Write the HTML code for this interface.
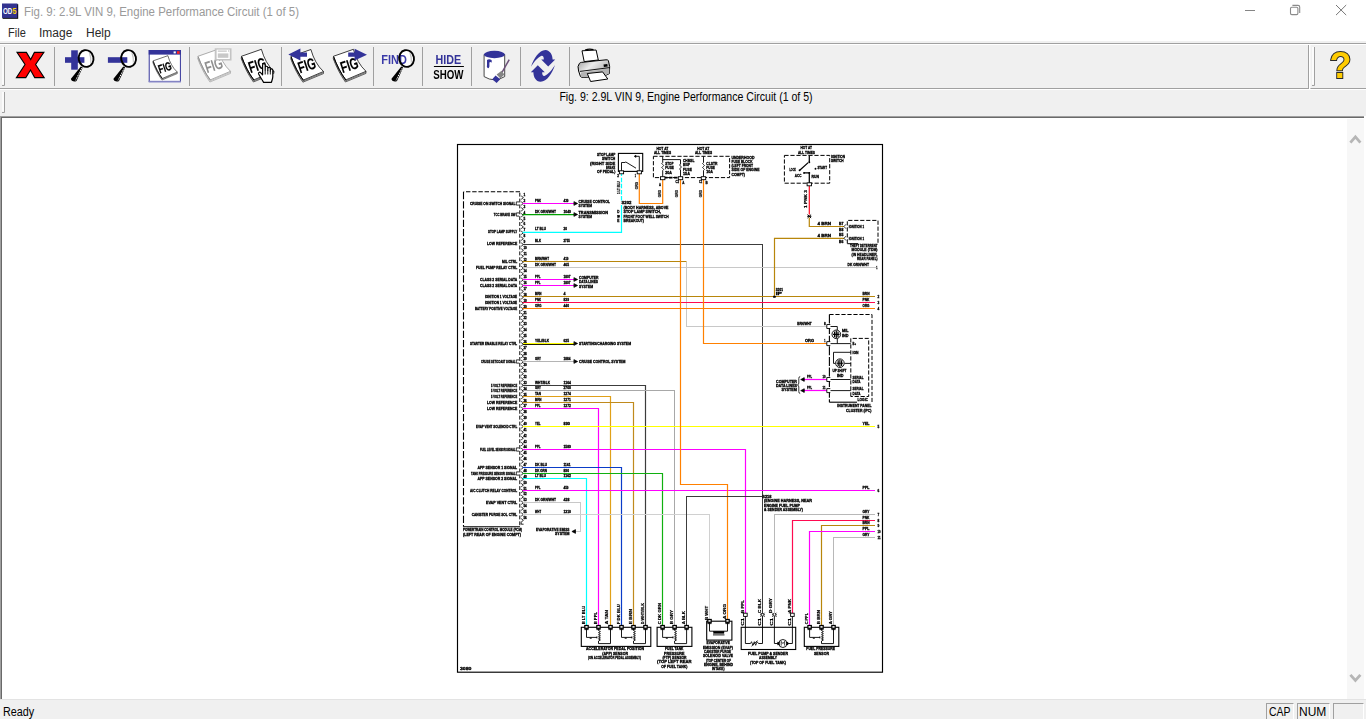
<!DOCTYPE html>
<html><head><meta charset="utf-8"><title>Fig. 9: 2.9L VIN 9, Engine Performance Circuit (1 of 5)</title>
<style>
html,body{margin:0;padding:0;}
body{width:1366px;height:719px;overflow:hidden;background:#fff;font-family:"Liberation Sans",sans-serif;position:relative;}
.abs{position:absolute;}
#title{left:23.5px;top:4.7px;font-size:12px;line-height:15px;color:#9a9a9a;white-space:nowrap;transform:scaleX(0.956);transform-origin:0 0;}
.menu{top:26px;font-size:12px;line-height:15px;color:#2a2a2a;white-space:nowrap;transform-origin:0 0;}
#tb{left:0;top:41px;width:1366px;height:48px;background:#f0f0f0;box-sizing:border-box;}
#tbt{left:0;top:43px;width:1366px;height:2px;background:linear-gradient(#a0a0a0 50%,#fff 50%);}
#tbline{left:0;top:88px;width:1366px;height:1px;background:#a0a0a0;}
#cap{left:0;top:89px;width:1366px;height:27px;background:#f0f0f0;border-top:1px solid #fff;box-sizing:border-box;}
#captxt{left:0;top:90px;width:1372px;text-align:center;font-size:12.5px;line-height:14px;color:#000;white-space:nowrap;transform:scaleX(0.845);transform-origin:686px 0;}
#dark{left:0;top:116px;width:1364px;height:2px;background:linear-gradient(#a0a0a0 50%,#696969 50%);}
#darkl{left:0;top:117px;width:2px;height:582px;background:linear-gradient(90deg,#a0a0a0 50%,#696969 50%);}
#sb{left:1347px;top:119px;width:17px;height:580px;background:#f7f7f7;}
#status{left:0;top:699px;width:1366px;height:20px;background:#f0f0f0;border-top:1px solid #e3e3e3;box-sizing:border-box;}
.st{font-size:12px;line-height:15px;color:#000;top:704.6px;white-space:nowrap;transform-origin:0 0;}
.pane{top:703px;height:16px;border-top:1px solid #a0a0a0;border-left:1px solid #a0a0a0;border-right:1px solid #fff;box-sizing:border-box;}
.vsep{top:47px;width:1px;height:39px;background:#a0a0a0;}
svg text{font-family:"Liberation Sans",sans-serif;font-weight:bold;fill:#000;stroke:#000;stroke-width:0.32px;}
</style></head><body>
<!-- title bar -->
<div class="abs" id="title">Fig. 9: 2.9L VIN 9, Engine Performance Circuit (1 of 5)</div>
<div class="abs menu" style="left:7.5px;transform:scaleX(0.92)">File</div>
<div class="abs menu" style="left:39px">Image</div>
<div class="abs menu" style="left:86px">Help</div>
<div class="abs" id="tb"></div><div class="abs" id="tbt"></div>
<div class="abs" id="tbline"></div>
<div class="abs" id="cap"></div>
<div class="abs" id="captxt">Fig. 9: 2.9L VIN 9, Engine Performance Circuit (1 of 5)</div>
<div class="abs" id="dark"></div><div class="abs" id="darkl"></div>
<div class="abs" id="sb"></div>
<div class="abs" id="status"></div>
<div class="abs st" style="left:3px;transform:scaleX(0.9)">Ready</div>
<div class="abs pane" style="left:1266px;width:28px"></div>
<div class="abs pane" style="left:1297px;width:33px"></div>
<div class="abs pane" style="left:1333px;width:31px"></div>
<div class="abs st" style="left:1268.5px;transform:scaleX(0.87)">CAP</div>
<div class="abs st" style="left:1299px">NUM</div>
<!-- chrome svg (icons) -->
<svg class="abs" style="left:0;top:0;opacity:0.999" width="1366" height="719" viewBox="0 0 1366 719">
<rect x="2.6" y="4.2" width="15.6" height="14.6" fill="#000"/>
<rect x="2" y="3.5" width="15.4" height="14.4" fill="#33338f"/>
<text x="3" y="14.2" font-size="9.4" font-weight="bold" style="fill:#fff;stroke:none;font-family:'Liberation Sans',sans-serif" textLength="9.4" lengthAdjust="spacingAndGlyphs">OD</text>
<text x="12.6" y="14.2" font-size="9.4" font-weight="bold" style="fill:#ffd800;stroke:none;font-family:'Liberation Sans',sans-serif" textLength="4" lengthAdjust="spacingAndGlyphs">5</text>
<path d="M1245,10.5 H1255" stroke="#858585" stroke-width="1"/>
<path d="M1292.4,5.4 H1298 Q1299.7,5.4 1299.7,7.1 V12.9" fill="none" stroke="#8a8a8a" stroke-width="1.1"/>
<rect x="1290.5" y="7.3" width="7.4" height="7.3" rx="1.3" fill="#fff" stroke="#8a8a8a" stroke-width="1.1"/>
<path d="M1336,5 L1346.2,15.1 M1346.2,5 L1336,15.1" stroke="#777" stroke-width="1"/>
<path d="M4.5,47 V85.5 H2.0" fill="none" stroke="#a0a0a0" stroke-width="1"/>
<path d="M3.0,47 V84.5" fill="none" stroke="#fff" stroke-width="1.5"/>
<path d="M4.5,92 V112.5 H2.0" fill="none" stroke="#a0a0a0" stroke-width="1"/>
<path d="M3.0,92 V111.5" fill="none" stroke="#fff" stroke-width="1.5"/>
<path d="M1314.5,47 V85.5 H1312.0" fill="none" stroke="#a0a0a0" stroke-width="1"/>
<path d="M1313.0,47 V84.5" fill="none" stroke="#fff" stroke-width="1.5"/>
<rect x="1308" y="45" width="1" height="44" fill="#a0a0a0"/><rect x="1309" y="44" width="1.4" height="45" fill="#fff"/>
<rect x="54.0" y="47" width="1" height="39" fill="#a0a0a0"/>
<rect x="189.0" y="47" width="1" height="39" fill="#a0a0a0"/>
<rect x="281.0" y="47" width="1" height="39" fill="#a0a0a0"/>
<rect x="373.0" y="47" width="1" height="39" fill="#a0a0a0"/>
<rect x="422.0" y="47" width="1" height="39" fill="#a0a0a0"/>
<rect x="471.0" y="47" width="1" height="39" fill="#a0a0a0"/>
<rect x="520.0" y="47" width="1" height="39" fill="#a0a0a0"/>
<rect x="569.0" y="47" width="1" height="39" fill="#a0a0a0"/>
<path d="M1350.4,142.6 L1355.4,136.9 L1360.4,142.6" fill="none" stroke="#b6b6b6" stroke-width="2.8"/>
<path d="M1350.4,674.8 L1355.4,680.5 L1360.4,674.8" fill="none" stroke="#b6b6b6" stroke-width="2.8"/>
<path d="M17,52.4 L26.4,52.4 L30.7,59.6 L34.4,52.4 L43.9,52.4 L35.6,64.5 L44.2,77.6 L34.7,77.6 L30.5,70 L25.8,77.6 L16.4,77.6 L25,64.5 Z" fill="#ff0000" stroke="#000" stroke-width="1.1" stroke-linejoin="miter"/>
<ellipse cx="86.1" cy="58.5" rx="7.4" ry="8.4" transform="rotate(-12 86.1 58.5)" fill="#fff" stroke="none"/>
<rect x="71.2" y="50.3" width="6.6" height="19.4" fill="#333399"/><rect x="65" y="57.2" width="19.4" height="5.6" fill="#333399"/>
<path d="M89.5,51.7 Q93.5,57.5 89.5,65.7 Q90.69999999999999,58.5 89.5,51.7 Z" fill="#c4c4c4" transform="rotate(-8 86.1 58.5)"/>
<ellipse cx="86.1" cy="58.5" rx="7.4" ry="8.4" transform="rotate(-12 86.1 58.5)" fill="none" stroke="#000" stroke-width="1.9"/>
<path d="M80.8,66.5 L82.69999999999999,67.39999999999999 L76.5,81.0 Q74.1,82.2 71.89999999999999,80.7 Q70.5,79.39999999999999 71.19999999999999,78.39999999999999 Z" fill="#000"/>
<path d="M81.69999999999999,68.2 L75.5,80.39999999999999" stroke="#fff" stroke-width="1" stroke-dasharray="1.2 0.7"/>
<ellipse cx="128.6" cy="58.5" rx="7.4" ry="8.4" transform="rotate(-12 128.6 58.5)" fill="#fff" stroke="none"/>
<rect x="107.9" y="57.2" width="19.4" height="5.6" fill="#333399"/>
<path d="M132.0,51.7 Q136.0,57.5 132.0,65.7 Q133.2,58.5 132.0,51.7 Z" fill="#c4c4c4" transform="rotate(-8 128.6 58.5)"/>
<ellipse cx="128.6" cy="58.5" rx="7.4" ry="8.4" transform="rotate(-12 128.6 58.5)" fill="none" stroke="#000" stroke-width="1.9"/>
<path d="M123.3,66.5 L125.19999999999999,67.39999999999999 L119.0,81.0 Q116.6,82.2 114.39999999999999,80.7 Q113.0,79.39999999999999 113.69999999999999,78.39999999999999 Z" fill="#000"/>
<path d="M124.19999999999999,68.2 L118.0,80.39999999999999" stroke="#fff" stroke-width="1" stroke-dasharray="1.2 0.7"/>
<rect x="148.7" y="50" width="32.2" height="32.4" fill="#fff"/>
<rect x="148.7" y="50" width="32.2" height="4.6" fill="#333399"/>
<rect x="149.2" y="50.5" width="31.2" height="31" fill="none" stroke="#333399" stroke-width="1"/>
<rect x="148.7" y="80.8" width="32.2" height="1.7" fill="#8484c4"/>
<rect x="173.6" y="51.4" width="2.2" height="2" fill="#fff"/><rect x="177" y="51.2" width="2.6" height="2.6" fill="#ff2020"/>
<g style="filter:grayscale(1)" transform="translate(153,60.9) scale(0.745)"><path d="M-0.3,2.0 C2.9,10.6 7.1,19 12.0,25.7 L32.6,17.1 L32.6,15" fill="#fff" fill-opacity="0.985" stroke="#000" stroke-width="0.6"/><path d="M-0.2,1.0 C3,9.6 7.2,18 12.2,24.65 L32.6,16.05" fill="#fff" fill-opacity="0.985" stroke="#000" stroke-width="0.55"/><path d="M0,0 L20,-7 C22.5,2 26.5,9.5 32.6,15 L12.4,23.6 C7.4,17 3.2,8.6 0,0 Z" fill="#fff" fill-opacity="0.985" stroke="#000" stroke-width="0.75"/><path d="M0.25,0.4 C3.45,9 7.6,17.4 12.5,23.8" fill="none" stroke="#000" stroke-width="1.0"/><text transform="translate(9,16.9) rotate(-18)" font-size="16" font-weight="normal" textLength="18" lengthAdjust="spacingAndGlyphs" style="fill:#000;stroke:#000;stroke-width:0.3px;font-family:'Liberation Sans',sans-serif">FIG</text></g>
<g style="filter:grayscale(1)" transform="translate(197.9,56.3) scale(1.0)"><path d="M-0.3,2.0 C2.9,10.6 7.1,19 12.0,25.7 L32.6,17.1 L32.6,15" fill="#fff" fill-opacity="0.985" stroke="#909090" stroke-width="0.6"/><path d="M-0.2,1.0 C3,9.6 7.2,18 12.2,24.65 L32.6,16.05" fill="#fff" fill-opacity="0.985" stroke="#909090" stroke-width="0.55"/><path d="M0,0 L20,-7 C22.5,2 26.5,9.5 32.6,15 L12.4,23.6 C7.4,17 3.2,8.6 0,0 Z" fill="#fff" fill-opacity="0.985" stroke="#909090" stroke-width="0.75"/><path d="M0.25,0.4 C3.45,9 7.6,17.4 12.5,23.8" fill="none" stroke="#909090" stroke-width="1.0"/><text transform="translate(9,16.9) rotate(-18)" font-size="16" font-weight="normal" textLength="18" lengthAdjust="spacingAndGlyphs" style="fill:#909090;stroke:#909090;stroke-width:0.01px;font-family:'Liberation Sans',sans-serif">FIG</text></g>
<rect x="214.7" y="48.3" width="16.8" height="12.2" fill="#c4c4c4"/><rect x="216.6" y="49.6" width="13.2" height="9.4" fill="#fff"/>
<rect x="217.8" y="50.6" width="9" height="1" fill="#b8b8b8"/><rect x="217.8" y="53.4" width="10.6" height="4.4" fill="#c8c8c8"/><rect x="228" y="50.4" width="1.2" height="1.2" fill="#c0c0c0"/>
<g style="filter:grayscale(1)" transform="translate(241.4,56.3) scale(1.0)"><path d="M-0.3,2.0 C2.9,10.6 7.1,19 12.0,25.7 L32.6,17.1 L32.6,15" fill="#fff" fill-opacity="0.985" stroke="#000" stroke-width="0.6"/><path d="M-0.2,1.0 C3,9.6 7.2,18 12.2,24.65 L32.6,16.05" fill="#fff" fill-opacity="0.985" stroke="#000" stroke-width="0.55"/><path d="M0,0 L20,-7 C22.5,2 26.5,9.5 32.6,15 L12.4,23.6 C7.4,17 3.2,8.6 0,0 Z" fill="#fff" fill-opacity="0.985" stroke="#000" stroke-width="0.75"/><path d="M0.25,0.4 C3.45,9 7.6,17.4 12.5,23.8" fill="none" stroke="#000" stroke-width="1.0"/><text transform="translate(9,16.9) rotate(-18)" font-size="16" font-weight="normal" textLength="18" lengthAdjust="spacingAndGlyphs" style="fill:#000;stroke:#000;stroke-width:0.12px;font-family:'Liberation Sans',sans-serif">FIG</text></g>
<path d="M262.2,80 C260.5,77.5 259.5,75.5 258.6,74 C258,72.6 259.6,71.6 260.8,72.8 L262.6,74.8 L262.6,65.2 C262.6,63.2 265.2,63.2 265.2,65.2 L265.2,70 L265.2,67.6 C265.2,65.8 267.8,65.8 267.8,67.6 L267.8,70.4 L267.8,68.6 C267.8,66.9 270.3,66.9 270.3,68.6 L270.3,71.2 L270.3,70 C270.3,68.4 272.8,68.4 272.8,70 L272.8,76.5 C272.8,78.5 272,80 271.4,82.4 L263.6,82.4 Z" fill="#fff" stroke="#000" stroke-width="1.2" stroke-linejoin="round"/>
<path d="M265.2,70 V74.5 M267.8,70.4 V74.5 M270.3,71.2 V74.5" stroke="#000" stroke-width="0.9"/>
<g style="filter:grayscale(1)" transform="translate(290.9,56.5) scale(1.0)"><path d="M-0.3,2.0 C2.9,10.6 7.1,19 12.0,25.7 L32.6,17.1 L32.6,15" fill="#fff" fill-opacity="0.985" stroke="#000" stroke-width="0.6"/><path d="M-0.2,1.0 C3,9.6 7.2,18 12.2,24.65 L32.6,16.05" fill="#fff" fill-opacity="0.985" stroke="#000" stroke-width="0.55"/><path d="M0,0 L20,-7 C22.5,2 26.5,9.5 32.6,15 L12.4,23.6 C7.4,17 3.2,8.6 0,0 Z" fill="#fff" fill-opacity="0.985" stroke="#000" stroke-width="0.75"/><path d="M0.25,0.4 C3.45,9 7.6,17.4 12.5,23.8" fill="none" stroke="#000" stroke-width="1.0"/><text transform="translate(9,16.9) rotate(-18)" font-size="16" font-weight="normal" textLength="18" lengthAdjust="spacingAndGlyphs" style="fill:#000;stroke:#000;stroke-width:0.12px;font-family:'Liberation Sans',sans-serif">FIG</text></g>
<path d="M288.3,54.6 L300.4,48.6 L300.4,52.6 L307,52.6 L307,56.8 L300.4,56.8 L300.4,60.5 Z" fill="#333399"/>
<g style="filter:grayscale(1)" transform="translate(333.4,56.3) scale(1.0)"><path d="M-0.3,2.0 C2.9,10.6 7.1,19 12.0,25.7 L32.6,17.1 L32.6,15" fill="#fff" fill-opacity="0.985" stroke="#000" stroke-width="0.6"/><path d="M-0.2,1.0 C3,9.6 7.2,18 12.2,24.65 L32.6,16.05" fill="#fff" fill-opacity="0.985" stroke="#000" stroke-width="0.55"/><path d="M0,0 L20,-7 C22.5,2 26.5,9.5 32.6,15 L12.4,23.6 C7.4,17 3.2,8.6 0,0 Z" fill="#fff" fill-opacity="0.985" stroke="#000" stroke-width="0.75"/><path d="M0.25,0.4 C3.45,9 7.6,17.4 12.5,23.8" fill="none" stroke="#000" stroke-width="1.0"/><text transform="translate(9,16.9) rotate(-18)" font-size="16" font-weight="normal" textLength="18" lengthAdjust="spacingAndGlyphs" style="fill:#000;stroke:#000;stroke-width:0.12px;font-family:'Liberation Sans',sans-serif">FIG</text></g>
<path d="M367,54.8 L354.6,48.8 L354.6,52.6 L348.2,52.6 L348.2,56.8 L354.6,56.8 L354.6,60.5 Z" fill="#333399"/>
<ellipse cx="406.6" cy="58.5" rx="7.4" ry="8.4" transform="rotate(-12 406.6 58.5)" fill="#fff" stroke="none"/>
<text x="381.3" y="63.9" font-size="13.4" font-weight="bold" textLength="25.5" lengthAdjust="spacingAndGlyphs" style="fill:#3a3aa8;stroke:none;font-family:'Liberation Sans',sans-serif">FIND</text>
<path d="M410.0,51.7 Q414.0,57.5 410.0,65.7 Q411.20000000000005,58.5 410.0,51.7 Z" fill="#c4c4c4" transform="rotate(-8 406.6 58.5)"/>
<ellipse cx="406.6" cy="58.5" rx="7.4" ry="8.4" transform="rotate(-12 406.6 58.5)" fill="none" stroke="#000" stroke-width="1.9"/>
<path d="M401.3,66.5 L403.20000000000005,67.39999999999999 L397.0,81.0 Q394.6,82.2 392.40000000000003,80.7 Q391.0,79.39999999999999 391.70000000000005,78.39999999999999 Z" fill="#000"/>
<path d="M402.20000000000005,68.2 L396.0,80.39999999999999" stroke="#fff" stroke-width="1" stroke-dasharray="1.2 0.7"/>
<text x="435.6" y="63.9" font-size="12.2" font-weight="bold" textLength="25.6" lengthAdjust="spacingAndGlyphs" style="fill:#333399;stroke:none;font-family:'Liberation Sans',sans-serif">HIDE</text>
<rect x="433.9" y="66" width="30" height="1" fill="#000"/>
<text x="433.2" y="78.9" font-size="12.8" font-weight="bold" textLength="30.3" lengthAdjust="spacingAndGlyphs" style="fill:#000;stroke:none;font-family:'Liberation Sans',sans-serif">SHOW</text>
<path d="M484.1,54.5 V76.6 Q494.4,83 504.7,76.6 V54.5 Z" fill="#fff" stroke="#333" stroke-width="0.9"/>
<ellipse cx="494.4" cy="54.5" rx="10.5" ry="3.7" fill="#333399"/>
<path d="M487,60 Q489,58.4 491.6,60 L491.8,62.6 Q490,61.4 489.4,62.6 L489.4,66.6 Q489,68.6 487.6,68 Q486.4,67 487,65 Z" fill="#333399"/>
<path d="M509.2,59.6 L502,72.4" stroke="#6c5078" stroke-width="1.5"/>
<path d="M501.6,70.8 L504.4,74.6 L500.4,78.6 L496.6,74.4 Z" fill="#858585"/>
<path d="M495.6,75.6 L500.2,79.2 L496.6,83 L492.2,79.2 Z" fill="#333399"/>
<path d="M531,66.8 C534,58 539,50.4 545.4,50 C550,50.4 552.6,54.6 552.6,59.6 L555.2,59.6 L548.2,66.6 L541.2,59.6 L543.8,59.6 C544,57.2 543,55.6 541.6,55.8 C537.6,57.4 534,62 531,66.8 Z" fill="#333399"/>
<path d="M555,65 C552,73.8 547,81.4 540.6,81.8 C536,81.4 533.4,77.2 533.4,72.2 L530.8,72.2 L537.8,65.2 L544.8,72.2 L542.2,72.2 C542,74.6 543,76.2 544.4,76 C548.4,74.4 552,69.8 555,65 Z" fill="#333399"/>
<path d="M582,50.8 L596.1,50 L598.3,60 L584.2,61.6 Z" fill="#fff" stroke="#000" stroke-width="1"/>
<path d="M585,50 Q589,48.6 593.5,49.6" fill="none" stroke="#000" stroke-width="1.2"/>
<defs><linearGradient id="pg" x1="0" y1="0" x2="1" y2="0.6"><stop offset="0" stop-color="#9a9a9a"/><stop offset="0.45" stop-color="#ececec"/><stop offset="1" stop-color="#a8a8a8"/></linearGradient></defs>
<path d="M579.4,63.4 Q577,66 578.6,71 L580.4,76.4 Q581,77.4 583,77.4 L588,77.2 L605.6,75.4 L609.4,73.6 Q610.4,66 608.4,60.6 Q607.6,59.6 606,59.8 L581.4,62.4 Q580,62.6 579.4,63.4 Z" fill="url(#pg)" stroke="#000" stroke-width="1"/>
<path d="M580,71.4 L609.6,67.6" fill="none" stroke="#000" stroke-width="0.9"/>
<path d="M581,72.4 L609.4,68.6 L609.2,73.4 L605.6,75.2 L583,77.2 L581,76.2 Z" fill="#b4b4b4"/>
<rect x="603.6" y="64.4" width="3.8" height="2.4" fill="#000" transform="rotate(-8 605 65)"/>
<path d="M587.3,73.5 L602.6,71.9 L607.8,79 L590.6,81.5 Z" fill="#fff" stroke="#000" stroke-width="1"/>
<text x="1329.4" y="78.4" font-size="37" font-weight="bold" textLength="22" lengthAdjust="spacingAndGlyphs" style="fill:#ffcc00;stroke:#2a2a2a;stroke-width:2px;paint-order:stroke fill;font-family:'Liberation Sans',sans-serif">?</text>
</svg>
<!-- diagram -->
<svg class="abs" style="left:0;top:0" width="1366" height="719" viewBox="0 0 1366 719">
<rect x="457.5" y="144.5" width="425" height="527.7" stroke="#000" stroke-width="1.15" fill="none"/>
<path d="M520,191.7 H463.5" stroke="#000" stroke-width="1.1" fill="none" stroke-dasharray="4.4 1.8"/>
<path d="M463.5,192 V526.8" stroke="#000" stroke-width="1.1" fill="none" stroke-dasharray="7.2 2.05"/>
<path d="M463.5,526.8 H520" stroke="#000" stroke-width="1.1" fill="none"/>
<line x1="519.8" y1="192.73" x2="519.8" y2="526" stroke="#000" stroke-width="1" stroke-dasharray="3.9 1.968"/>
<path d="M521.2,195.9 L523.4,197.6 L521.2,199.29999999999998 M521.2,201.77 L523.4,203.47 L521.2,205.17 M521.2,207.64000000000001 L523.4,209.34 L521.2,211.04 M521.2,213.5 L523.4,215.2 L521.2,216.89999999999998 M521.2,219.37 L523.4,221.07 L521.2,222.76999999999998 M521.2,225.24 L523.4,226.94 L521.2,228.64 M521.2,231.11 L523.4,232.81 L521.2,234.51 M521.2,236.98000000000002 L523.4,238.68 L521.2,240.38 M521.2,242.84 L523.4,244.54 L521.2,246.23999999999998 M521.2,248.71 L523.4,250.41 L521.2,252.10999999999999 M521.2,254.57999999999998 L523.4,256.28 L521.2,257.97999999999996 M521.2,260.45 L523.4,262.15 L521.2,263.84999999999997 M521.2,266.32 L523.4,268.02 L521.2,269.71999999999997 M521.2,272.18 L523.4,273.88 L521.2,275.58 M521.2,278.05 L523.4,279.75 L521.2,281.45 M521.2,283.92 L523.4,285.62 L521.2,287.32 M521.2,289.79 L523.4,291.49 L521.2,293.19 M521.2,295.66 L523.4,297.36 L521.2,299.06 M521.2,301.52000000000004 L523.4,303.22 L521.2,304.92 M521.2,307.39 L523.4,309.09 L521.2,310.78999999999996 M521.2,313.26 L523.4,314.96 L521.2,316.65999999999997 M521.2,319.13 L523.4,320.83 L521.2,322.53 M521.2,325.0 L523.4,326.7 L521.2,328.4 M521.2,330.86 L523.4,332.56 L521.2,334.26 M521.2,336.73 L523.4,338.43 L521.2,340.13 M521.2,342.6 L523.4,344.3 L521.2,346.0 M521.2,348.47 L523.4,350.17 L521.2,351.87 M521.2,354.34000000000003 L523.4,356.04 L521.2,357.74 M521.2,360.2 L523.4,361.9 L521.2,363.59999999999997 M521.2,366.07 L523.4,367.77 L521.2,369.46999999999997 M521.2,371.94 L523.4,373.64 L521.2,375.34 M521.2,377.81 L523.4,379.51 L521.2,381.21 M521.2,383.68 L523.4,385.38 L521.2,387.08 M521.2,389.54 L523.4,391.24 L521.2,392.94 M521.2,395.41 L523.4,397.11 L521.2,398.81 M521.2,401.28000000000003 L523.4,402.98 L521.2,404.68 M521.2,407.15000000000003 L523.4,408.85 L521.2,410.55 M521.2,413.02000000000004 L523.4,414.72 L521.2,416.42 M521.2,418.88 L523.4,420.58 L521.2,422.28 M521.2,424.75 L523.4,426.45 L521.2,428.15 M521.2,430.62 L523.4,432.32 L521.2,434.02 M521.2,436.49 L523.4,438.19 L521.2,439.89 M521.2,442.36 L523.4,444.06 L521.2,445.76 M521.2,448.22 L523.4,449.92 L521.2,451.62 M521.2,454.09000000000003 L523.4,455.79 L521.2,457.49 M521.2,459.96000000000004 L523.4,461.66 L521.2,463.36 M521.2,465.83 L523.4,467.53 L521.2,469.22999999999996 M521.2,471.7 L523.4,473.4 L521.2,475.09999999999997 M521.2,477.56 L523.4,479.26 L521.2,480.96 M521.2,483.43 L523.4,485.13 L521.2,486.83 M521.2,489.3 L523.4,491.0 L521.2,492.7 M521.2,495.17 L523.4,496.87 L521.2,498.57 M521.2,501.04 L523.4,502.74 L521.2,504.44 M521.2,506.90000000000003 L523.4,508.6 L521.2,510.3 M521.2,512.77 L523.4,514.47 L521.2,516.1700000000001 M521.2,518.64 L523.4,520.34 L521.2,522.0400000000001 " stroke="#000" stroke-width="0.85" fill="none"/>
<path d="M521.2,522.3 V524.2 H523.6" stroke="#000" stroke-width="0.85" fill="none"/>
<text x="470" y="204.95" font-size="4.0" textLength="45.5" lengthAdjust="spacingAndGlyphs">CRUISE ON SWITCH SIGNAL</text>
<path d="M519,201.9 L516.3,201.9 L516.3,205.1 L519,205.1" stroke="#000" stroke-width="0.8" fill="none"/>
<text x="493.7" y="215.95" font-size="4.0" textLength="21.8" lengthAdjust="spacingAndGlyphs">TCC BRAKE SW</text>
<path d="M519,212.9 L516.3,212.9 L516.3,216.1 L519,216.1" stroke="#000" stroke-width="0.8" fill="none"/>
<text x="488" y="233.45" font-size="4.0" textLength="29.2" lengthAdjust="spacingAndGlyphs">STOP LAMP SUPPLY</text>
<text x="487" y="245.45" font-size="4.0" textLength="30.2" lengthAdjust="spacingAndGlyphs">LOW REFERENCE</text>
<text x="502" y="262.95" font-size="4.0" textLength="15.2" lengthAdjust="spacingAndGlyphs">MIL CTRL</text>
<text x="476" y="268.95" font-size="4.0" textLength="41.2" lengthAdjust="spacingAndGlyphs">FUEL PUMP RELAY CTRL</text>
<text x="480" y="280.95" font-size="4.0" textLength="37.2" lengthAdjust="spacingAndGlyphs">CLASS 2 SERIAL DATA</text>
<text x="480" y="286.95" font-size="4.0" textLength="37.2" lengthAdjust="spacingAndGlyphs">CLASS 2 SERIAL DATA</text>
<text x="485" y="297.95" font-size="4.0" textLength="32.2" lengthAdjust="spacingAndGlyphs">IGNITION 1 VOLTAGE</text>
<text x="485" y="303.95" font-size="4.0" textLength="32.2" lengthAdjust="spacingAndGlyphs">IGNITION 1 VOLTAGE</text>
<text x="475" y="309.95" font-size="4.0" textLength="42.2" lengthAdjust="spacingAndGlyphs">BATTERY POSITIVE VOLTAGE</text>
<text x="470" y="344.95" font-size="4.0" textLength="47.2" lengthAdjust="spacingAndGlyphs">STARTER ENABLE RELAY CTRL</text>
<text x="481" y="362.95" font-size="4.0" textLength="34.5" lengthAdjust="spacingAndGlyphs">CRUISE SET/COAST SIGNAL</text>
<path d="M519,359.9 L516.3,359.9 L516.3,363.1 L519,363.1" stroke="#000" stroke-width="0.8" fill="none"/>
<text x="491" y="386.95" font-size="4.0" textLength="26.2" lengthAdjust="spacingAndGlyphs">5 VOLT REFERENCE</text>
<text x="491" y="391.95" font-size="4.0" textLength="26.2" lengthAdjust="spacingAndGlyphs">5 VOLT REFERENCE</text>
<text x="491" y="397.95" font-size="4.0" textLength="26.2" lengthAdjust="spacingAndGlyphs">5 VOLT REFERENCE</text>
<text x="487" y="403.95" font-size="4.0" textLength="30.2" lengthAdjust="spacingAndGlyphs">LOW REFERENCE</text>
<text x="487" y="409.95" font-size="4.0" textLength="30.2" lengthAdjust="spacingAndGlyphs">LOW REFERENCE</text>
<text x="476" y="427.95" font-size="4.0" textLength="41.2" lengthAdjust="spacingAndGlyphs">EVAP VENT SOLENOID CTRL</text>
<text x="480" y="450.95" font-size="4.0" textLength="35.5" lengthAdjust="spacingAndGlyphs">FUEL LEVEL SENSOR SIGNAL</text>
<path d="M519,447.9 L516.3,447.9 L516.3,451.1 L519,451.1" stroke="#000" stroke-width="0.8" fill="none"/>
<text x="477.5" y="468.95" font-size="4.0" textLength="39.7" lengthAdjust="spacingAndGlyphs">APP SENSOR 1 SIGNAL</text>
<text x="471" y="474.95" font-size="4.0" textLength="44.5" lengthAdjust="spacingAndGlyphs">TANK PRESSURE SENSOR SIGNAL</text>
<path d="M519,471.9 L516.3,471.9 L516.3,475.1 L519,475.1" stroke="#000" stroke-width="0.8" fill="none"/>
<text x="477.5" y="479.95" font-size="4.0" textLength="39.7" lengthAdjust="spacingAndGlyphs">APP SENSOR 2 SIGNAL</text>
<text x="470" y="491.95" font-size="4.0" textLength="47.2" lengthAdjust="spacingAndGlyphs">A/C CLUTCH RELAY CONTROL</text>
<text x="486" y="503.95" font-size="4.0" textLength="31.2" lengthAdjust="spacingAndGlyphs">EVAP VENT CTRL</text>
<text x="471.7" y="515.95" font-size="4.0" textLength="45.5" lengthAdjust="spacingAndGlyphs">CANISTER PURGE SOL CTRL</text>
<text x="463" y="530.75" font-size="4.0" textLength="59" lengthAdjust="spacingAndGlyphs">POWERTRAIN CONTROL MODULE (PCM)</text>
<text x="463" y="535.85" font-size="4.0" textLength="58" lengthAdjust="spacingAndGlyphs">(LEFT REAR OF ENGINE COMPT)</text>
<text x="535" y="201.75" font-size="4.0" textLength="6" lengthAdjust="spacingAndGlyphs">PNK</text>
<text x="563.5" y="201.75" font-size="4.0" textLength="5" lengthAdjust="spacingAndGlyphs">439</text>
<text x="535" y="212.75" font-size="4.0" textLength="21" lengthAdjust="spacingAndGlyphs">DK GRN/WHT</text>
<text x="563.5" y="212.75" font-size="4.0" textLength="7.5" lengthAdjust="spacingAndGlyphs">1049</text>
<text x="535" y="230.25" font-size="4.0" textLength="11" lengthAdjust="spacingAndGlyphs">LT BLU</text>
<text x="563.5" y="230.25" font-size="4.0" textLength="3.5" lengthAdjust="spacingAndGlyphs">20</text>
<text x="535" y="242.25" font-size="4.0" textLength="6" lengthAdjust="spacingAndGlyphs">BLK</text>
<text x="563.5" y="242.25" font-size="4.0" textLength="6.5" lengthAdjust="spacingAndGlyphs">2755</text>
<text x="535" y="259.75" font-size="4.0" textLength="14" lengthAdjust="spacingAndGlyphs">BRN/WHT</text>
<text x="563.5" y="259.75" font-size="4.0" textLength="5" lengthAdjust="spacingAndGlyphs">419</text>
<text x="535" y="265.75" font-size="4.0" textLength="21" lengthAdjust="spacingAndGlyphs">DK GRN/WHT</text>
<text x="563.5" y="265.75" font-size="4.0" textLength="5.5" lengthAdjust="spacingAndGlyphs">465</text>
<text x="535" y="277.75" font-size="4.0" textLength="5.5" lengthAdjust="spacingAndGlyphs">PPL</text>
<text x="563.5" y="277.75" font-size="4.0" textLength="7" lengthAdjust="spacingAndGlyphs">1807</text>
<text x="535" y="283.75" font-size="4.0" textLength="5.5" lengthAdjust="spacingAndGlyphs">PPL</text>
<text x="563.5" y="283.75" font-size="4.0" textLength="7" lengthAdjust="spacingAndGlyphs">1807</text>
<text x="535" y="294.75" font-size="4.0" textLength="6.5" lengthAdjust="spacingAndGlyphs">BRN</text>
<text x="563.5" y="294.75" font-size="4.0" textLength="2" lengthAdjust="spacingAndGlyphs">4</text>
<text x="535" y="300.75" font-size="4.0" textLength="6" lengthAdjust="spacingAndGlyphs">PNK</text>
<text x="563.5" y="300.75" font-size="4.0" textLength="5.5" lengthAdjust="spacingAndGlyphs">839</text>
<text x="535" y="306.75" font-size="4.0" textLength="6.5" lengthAdjust="spacingAndGlyphs">ORG</text>
<text x="563.5" y="306.75" font-size="4.0" textLength="5.5" lengthAdjust="spacingAndGlyphs">440</text>
<text x="535" y="341.75" font-size="4.0" textLength="14" lengthAdjust="spacingAndGlyphs">YEL/BLK</text>
<text x="563.5" y="341.75" font-size="4.0" textLength="5.5" lengthAdjust="spacingAndGlyphs">625</text>
<text x="535" y="359.75" font-size="4.0" textLength="6" lengthAdjust="spacingAndGlyphs">GRY</text>
<text x="563.5" y="359.75" font-size="4.0" textLength="7" lengthAdjust="spacingAndGlyphs">1884</text>
<text x="535" y="383.75" font-size="4.0" textLength="15" lengthAdjust="spacingAndGlyphs">WHT/BLK</text>
<text x="563.5" y="383.75" font-size="4.0" textLength="7.5" lengthAdjust="spacingAndGlyphs">1164</text>
<text x="535" y="388.75" font-size="4.0" textLength="6" lengthAdjust="spacingAndGlyphs">GRY</text>
<text x="563.5" y="388.75" font-size="4.0" textLength="7.5" lengthAdjust="spacingAndGlyphs">2700</text>
<text x="535" y="394.75" font-size="4.0" textLength="6" lengthAdjust="spacingAndGlyphs">TAN</text>
<text x="563.5" y="394.75" font-size="4.0" textLength="7.5" lengthAdjust="spacingAndGlyphs">1274</text>
<text x="535" y="400.75" font-size="4.0" textLength="6.5" lengthAdjust="spacingAndGlyphs">BRN</text>
<text x="563.5" y="400.75" font-size="4.0" textLength="7.5" lengthAdjust="spacingAndGlyphs">1271</text>
<text x="535" y="406.75" font-size="4.0" textLength="5.5" lengthAdjust="spacingAndGlyphs">PPL</text>
<text x="563.5" y="406.75" font-size="4.0" textLength="7.5" lengthAdjust="spacingAndGlyphs">1272</text>
<text x="535" y="424.75" font-size="4.0" textLength="5.5" lengthAdjust="spacingAndGlyphs">YEL</text>
<text x="563.5" y="424.75" font-size="4.0" textLength="6.5" lengthAdjust="spacingAndGlyphs">890</text>
<text x="535" y="447.75" font-size="4.0" textLength="5.5" lengthAdjust="spacingAndGlyphs">PPL</text>
<text x="563.5" y="447.75" font-size="4.0" textLength="7.5" lengthAdjust="spacingAndGlyphs">1589</text>
<text x="535" y="465.75" font-size="4.0" textLength="12" lengthAdjust="spacingAndGlyphs">DK BLU</text>
<text x="563.5" y="465.75" font-size="4.0" textLength="7" lengthAdjust="spacingAndGlyphs">1161</text>
<text x="535" y="471.75" font-size="4.0" textLength="12" lengthAdjust="spacingAndGlyphs">DK GRN</text>
<text x="563.5" y="471.75" font-size="4.0" textLength="5.5" lengthAdjust="spacingAndGlyphs">890</text>
<text x="535" y="476.75" font-size="4.0" textLength="11" lengthAdjust="spacingAndGlyphs">LT BLU</text>
<text x="563.5" y="476.75" font-size="4.0" textLength="7.5" lengthAdjust="spacingAndGlyphs">1162</text>
<text x="535" y="488.75" font-size="4.0" textLength="5.5" lengthAdjust="spacingAndGlyphs">PPL</text>
<text x="563.5" y="488.75" font-size="4.0" textLength="5" lengthAdjust="spacingAndGlyphs">459</text>
<text x="535" y="500.75" font-size="4.0" textLength="21" lengthAdjust="spacingAndGlyphs">DK GRN/WHT</text>
<text x="563.5" y="500.75" font-size="4.0" textLength="6" lengthAdjust="spacingAndGlyphs">428</text>
<text x="535" y="512.75" font-size="4.0" textLength="6" lengthAdjust="spacingAndGlyphs">WHT</text>
<text x="563.5" y="512.75" font-size="4.0" textLength="7.5" lengthAdjust="spacingAndGlyphs">1310</text>
<text x="523.4" y="196.15" font-size="3.5" textLength="1.8" lengthAdjust="spacingAndGlyphs">1</text>
<text x="523.4" y="202.02" font-size="3.5" textLength="1.8" lengthAdjust="spacingAndGlyphs">2</text>
<text x="523.4" y="207.89" font-size="3.5" textLength="1.8" lengthAdjust="spacingAndGlyphs">3</text>
<text x="523.4" y="213.75" font-size="3.5" textLength="1.8" lengthAdjust="spacingAndGlyphs">4</text>
<text x="523.4" y="219.62" font-size="3.5" textLength="1.8" lengthAdjust="spacingAndGlyphs">5</text>
<text x="523.4" y="225.49" font-size="3.5" textLength="1.8" lengthAdjust="spacingAndGlyphs">6</text>
<text x="523.4" y="231.36" font-size="3.5" textLength="1.8" lengthAdjust="spacingAndGlyphs">7</text>
<text x="523.4" y="237.23" font-size="3.5" textLength="1.8" lengthAdjust="spacingAndGlyphs">8</text>
<text x="523.4" y="243.09" font-size="3.5" textLength="1.8" lengthAdjust="spacingAndGlyphs">9</text>
<text x="523.4" y="248.96" font-size="3.5" textLength="3.3" lengthAdjust="spacingAndGlyphs">10</text>
<text x="523.4" y="254.83" font-size="3.5" textLength="3.3" lengthAdjust="spacingAndGlyphs">11</text>
<text x="523.4" y="260.7" font-size="3.5" textLength="3.3" lengthAdjust="spacingAndGlyphs">12</text>
<text x="523.4" y="266.57" font-size="3.5" textLength="3.3" lengthAdjust="spacingAndGlyphs">13</text>
<text x="523.4" y="272.43" font-size="3.5" textLength="3.3" lengthAdjust="spacingAndGlyphs">14</text>
<text x="523.4" y="278.3" font-size="3.5" textLength="3.3" lengthAdjust="spacingAndGlyphs">15</text>
<text x="523.4" y="284.17" font-size="3.5" textLength="3.3" lengthAdjust="spacingAndGlyphs">16</text>
<text x="523.4" y="290.04" font-size="3.5" textLength="3.3" lengthAdjust="spacingAndGlyphs">17</text>
<text x="523.4" y="295.91" font-size="3.5" textLength="3.3" lengthAdjust="spacingAndGlyphs">18</text>
<text x="523.4" y="301.77" font-size="3.5" textLength="3.3" lengthAdjust="spacingAndGlyphs">19</text>
<text x="523.4" y="307.64" font-size="3.5" textLength="3.3" lengthAdjust="spacingAndGlyphs">20</text>
<text x="523.4" y="313.51" font-size="3.5" textLength="3.3" lengthAdjust="spacingAndGlyphs">21</text>
<text x="523.4" y="319.38" font-size="3.5" textLength="3.3" lengthAdjust="spacingAndGlyphs">22</text>
<text x="523.4" y="325.25" font-size="3.5" textLength="3.3" lengthAdjust="spacingAndGlyphs">23</text>
<text x="523.4" y="331.11" font-size="3.5" textLength="3.3" lengthAdjust="spacingAndGlyphs">24</text>
<text x="523.4" y="336.98" font-size="3.5" textLength="3.3" lengthAdjust="spacingAndGlyphs">25</text>
<text x="523.4" y="342.85" font-size="3.5" textLength="3.3" lengthAdjust="spacingAndGlyphs">26</text>
<text x="523.4" y="348.72" font-size="3.5" textLength="3.3" lengthAdjust="spacingAndGlyphs">27</text>
<text x="523.4" y="354.59" font-size="3.5" textLength="3.3" lengthAdjust="spacingAndGlyphs">28</text>
<text x="523.4" y="360.45" font-size="3.5" textLength="3.3" lengthAdjust="spacingAndGlyphs">29</text>
<text x="523.4" y="366.32" font-size="3.5" textLength="3.3" lengthAdjust="spacingAndGlyphs">30</text>
<text x="523.4" y="372.19" font-size="3.5" textLength="3.3" lengthAdjust="spacingAndGlyphs">31</text>
<text x="523.4" y="378.06" font-size="3.5" textLength="3.3" lengthAdjust="spacingAndGlyphs">32</text>
<text x="523.4" y="383.93" font-size="3.5" textLength="3.3" lengthAdjust="spacingAndGlyphs">33</text>
<text x="523.4" y="389.79" font-size="3.5" textLength="3.3" lengthAdjust="spacingAndGlyphs">34</text>
<text x="523.4" y="395.66" font-size="3.5" textLength="3.3" lengthAdjust="spacingAndGlyphs">35</text>
<text x="523.4" y="401.53" font-size="3.5" textLength="3.3" lengthAdjust="spacingAndGlyphs">36</text>
<text x="523.4" y="407.4" font-size="3.5" textLength="3.3" lengthAdjust="spacingAndGlyphs">37</text>
<text x="523.4" y="413.27" font-size="3.5" textLength="3.3" lengthAdjust="spacingAndGlyphs">38</text>
<text x="523.4" y="419.13" font-size="3.5" textLength="3.3" lengthAdjust="spacingAndGlyphs">39</text>
<text x="523.4" y="425.0" font-size="3.5" textLength="3.3" lengthAdjust="spacingAndGlyphs">40</text>
<text x="523.4" y="430.87" font-size="3.5" textLength="3.3" lengthAdjust="spacingAndGlyphs">41</text>
<text x="523.4" y="436.74" font-size="3.5" textLength="3.3" lengthAdjust="spacingAndGlyphs">42</text>
<text x="523.4" y="442.61" font-size="3.5" textLength="3.3" lengthAdjust="spacingAndGlyphs">43</text>
<text x="523.4" y="448.47" font-size="3.5" textLength="3.3" lengthAdjust="spacingAndGlyphs">44</text>
<text x="523.4" y="454.34" font-size="3.5" textLength="3.3" lengthAdjust="spacingAndGlyphs">45</text>
<text x="523.4" y="460.21" font-size="3.5" textLength="3.3" lengthAdjust="spacingAndGlyphs">46</text>
<text x="523.4" y="466.08" font-size="3.5" textLength="3.3" lengthAdjust="spacingAndGlyphs">47</text>
<text x="523.4" y="471.95" font-size="3.5" textLength="3.3" lengthAdjust="spacingAndGlyphs">48</text>
<text x="523.4" y="477.81" font-size="3.5" textLength="3.3" lengthAdjust="spacingAndGlyphs">49</text>
<text x="523.4" y="483.68" font-size="3.5" textLength="3.3" lengthAdjust="spacingAndGlyphs">50</text>
<text x="523.4" y="489.55" font-size="3.5" textLength="3.3" lengthAdjust="spacingAndGlyphs">51</text>
<text x="523.4" y="495.42" font-size="3.5" textLength="3.3" lengthAdjust="spacingAndGlyphs">52</text>
<text x="523.4" y="501.29" font-size="3.5" textLength="3.3" lengthAdjust="spacingAndGlyphs">53</text>
<text x="523.4" y="507.15" font-size="3.5" textLength="3.3" lengthAdjust="spacingAndGlyphs">54</text>
<text x="523.4" y="513.02" font-size="3.5" textLength="3.3" lengthAdjust="spacingAndGlyphs">55</text>
<text x="523.4" y="518.89" font-size="3.5" textLength="3.3" lengthAdjust="spacingAndGlyphs">56</text>
<path d="M522.6,203.5 L574,203.5" stroke="#ff00ff" stroke-width="1.2" fill="none"/>
<path d="M574,201.4 L574,205.6 M574.3,201.8 L577.6,203.5 L574.3,205.2 Z" fill="#000" stroke="#000" stroke-width="0.7"/>
<path d="M522.6,214.5 L574,214.5" stroke="#00a000" stroke-width="1.25" fill="none"/>
<path d="M574,212.4 L574,216.6 M574.3,212.8 L577.6,214.5 L574.3,216.2 Z" fill="#000" stroke="#000" stroke-width="0.7"/>
<path d="M522.6,232.4 L621.5,232.4 L621.5,205" stroke="#00ffff" stroke-width="1.2" fill="none"/>
<path d="M621.5,200.5 L621.5,173.5" stroke="#00ffff" stroke-width="1.2" fill="none" stroke-dasharray="4.5 1.6"/>
<path d="M522.6,244 L762.5,244 L762.5,614" stroke="#3c3c3c" stroke-width="1" fill="none" shape-rendering="crispEdges"/>
<path d="M522.6,261.5 L686.5,261.5" stroke="#b8860b" stroke-width="1.2" fill="none"/>
<path d="M686.5,262 L686.5,326.5 L827,326.5" stroke="#c8c8c8" stroke-width="1" fill="none" shape-rendering="crispEdges"/>
<path d="M522.6,267.5 L875.5,267.5" stroke="#c8c8c8" stroke-width="1" fill="none" shape-rendering="crispEdges"/>
<path d="M522.6,279.5 L574,279.5" stroke="#ff00ff" stroke-width="1.2" fill="none"/>
<path d="M574,277.4 L574,281.6 M574.3,277.8 L577.6,279.5 L574.3,281.2 Z" fill="#000" stroke="#000" stroke-width="0.7"/>
<path d="M522.6,285.5 L574,285.5" stroke="#ff00ff" stroke-width="1.2" fill="none"/>
<path d="M574,283.4 L574,287.6 M574.3,283.8 L577.6,285.5 L574.3,287.2 Z" fill="#000" stroke="#000" stroke-width="0.7"/>
<path d="M522.6,296.5 L875,296.5" stroke="#b8860b" stroke-width="1.2" fill="none"/>
<path d="M522.6,302.5 L875,302.5" stroke="#ff0a50" stroke-width="1.2" fill="none"/>
<path d="M522.6,308.5 L875,308.5" stroke="#ff8000" stroke-width="1.2" fill="none"/>
<path d="M522.6,343.2 L574,343.2" stroke="#ffff00" stroke-width="1" fill="none" shape-rendering="crispEdges"/>
<path d="M522.6,344.1 L574,344.1" stroke="#202000" stroke-width="1" fill="none" shape-rendering="crispEdges"/>
<path d="M574,341.4 L574,345.6 M574.3,341.8 L577.6,343.5 L574.3,345.2 Z" fill="#000" stroke="#000" stroke-width="0.7"/>
<path d="M522.6,361.5 L574,361.5" stroke="#b4b4b4" stroke-width="1.2" fill="none"/>
<path d="M574,359.4 L574,363.6 M574.3,359.8 L577.6,361.5 L574.3,363.2 Z" fill="#000" stroke="#000" stroke-width="0.7"/>
<path d="M522.6,385.5 L645.5,385.5 L645.5,626" stroke="#3c3c3c" stroke-width="1.2" fill="none"/>
<path d="M522.6,390.5 L674.5,390.5 L674.5,626" stroke="#a8a8a8" stroke-width="1" fill="none" shape-rendering="crispEdges"/>
<path d="M522.6,396.5 L610.5,396.5 L610.5,626" stroke="#e0a018" stroke-width="1.2" fill="none"/>
<path d="M522.6,402.5 L633.5,402.5 L633.5,626" stroke="#c08a1c" stroke-width="1.2" fill="none"/>
<path d="M522.6,408.5 L598.5,408.5 L598.5,626" stroke="#ff00ff" stroke-width="1.2" fill="none"/>
<path d="M522.6,426.5 L875,426.5" stroke="#ffff00" stroke-width="1.2" fill="none"/>
<path d="M522.6,449.5 L745.5,449.5 L745.5,613" stroke="#ff00ff" stroke-width="1.2" fill="none"/>
<path d="M522.6,467.5 L621.5,467.5 L621.5,626" stroke="#0a3cc8" stroke-width="1.2" fill="none"/>
<path d="M522.6,473.5 L662.5,473.5 L662.5,626" stroke="#10b010" stroke-width="1.2" fill="none"/>
<path d="M522.6,478.5 L586.5,478.5 L586.5,626" stroke="#00ffff" stroke-width="1.2" fill="none"/>
<path d="M522.6,490.5 L875,490.5" stroke="#ff00ff" stroke-width="1.2" fill="none"/>
<path d="M522.6,502.5 L580.5,502.5 L580.5,531.5 L575,531.5" stroke="#c8c8c8" stroke-width="1" fill="none" shape-rendering="crispEdges"/>
<path d="M575.5,529.4 L575.5,533.6 M575.2,529.8 L571.9,531.5 L575.2,533.2 Z" fill="#000" stroke="#000" stroke-width="0.7"/>
<path d="M522.6,514.5 L709.5,514.5 L709.5,620" stroke="#d0d0d0" stroke-width="1" fill="none" shape-rendering="crispEdges"/>
<path d="M680.5,179 L680.5,484.5 L727.5,484.5 L727.5,620" stroke="#ff8000" stroke-width="1.2" fill="none"/>
<path d="M703.5,179 L703.5,343.5 L827,343.5" stroke="#ff8000" stroke-width="1.2" fill="none"/>
<path d="M639.3,173.5 L639.3,203.5 L662.7,203.5 L662.7,179" stroke="#ff8000" stroke-width="1.2" fill="none"/>
<path d="M686.5,626 L686.5,496.5 L762,496.5" stroke="#3c3c3c" stroke-width="1" fill="none" shape-rendering="crispEdges"/>
<path d="M809.3,185.5 L809.3,214.5" stroke="#ff0a20" stroke-width="1.2" fill="none"/>
<path d="M809.3,217.5 L809.3,226.5 L844,226.5" stroke="#b8860b" stroke-width="1.2" fill="none"/>
<path d="M844,238.3 L774.5,238.3 L774.5,296.5" stroke="#b8860b" stroke-width="1.2" fill="none"/>
<path d="M875,514.5 L774.5,514.5 L774.5,613" stroke="#b8b8b8" stroke-width="1" fill="none" shape-rendering="crispEdges"/>
<path d="M875,520.5 L792.5,520.5 L792.5,613" stroke="#ff0a50" stroke-width="1.2" fill="none"/>
<path d="M875,525.5 L821.5,525.5 L821.5,626" stroke="#b8860b" stroke-width="1.2" fill="none"/>
<path d="M875,531.5 L809.5,531.5 L809.5,626" stroke="#ff00ff" stroke-width="1.2" fill="none"/>
<path d="M875,537.5 L833.5,537.5 L833.5,626" stroke="#b8b8b8" stroke-width="1" fill="none" shape-rendering="crispEdges"/>
<path d="M804,379.5 L827.5,379.5" stroke="#ff00ff" stroke-width="1.2" fill="none"/>
<path d="M804,390.5 L827.5,390.5" stroke="#ff00ff" stroke-width="1.2" fill="none"/>
<text x="578.5" y="202.65" font-size="4.0" textLength="31.5" lengthAdjust="spacingAndGlyphs">CRUISE CONTROL</text>
<text x="578.5" y="207.25" font-size="4.0" textLength="13.5" lengthAdjust="spacingAndGlyphs">SYSTEM</text>
<text x="578.5" y="213.95" font-size="4.0" textLength="29.5" lengthAdjust="spacingAndGlyphs">TRANSMISSION</text>
<text x="578.5" y="218.45" font-size="4.0" textLength="13.5" lengthAdjust="spacingAndGlyphs">SYSTEM</text>
<text x="579" y="278.65" font-size="4.0" textLength="19.5" lengthAdjust="spacingAndGlyphs">COMPUTER</text>
<text x="579" y="283.45" font-size="4.0" textLength="19" lengthAdjust="spacingAndGlyphs">DATA LINES</text>
<text x="579" y="287.95" font-size="4.0" textLength="14" lengthAdjust="spacingAndGlyphs">SYSTEM</text>
<text x="579" y="344.95" font-size="4.0" textLength="52" lengthAdjust="spacingAndGlyphs">STARTING/CHARGING SYSTEM</text>
<text x="579" y="362.95" font-size="4.0" textLength="46.5" lengthAdjust="spacingAndGlyphs">CRUISE CONTROL SYSTEM</text>
<text x="536" y="530.65" font-size="4.0" textLength="33.5" lengthAdjust="spacingAndGlyphs">EVAPORATIVE EMISS</text>
<text x="555" y="535.05" font-size="4.0" textLength="14.5" lengthAdjust="spacingAndGlyphs">SYSTEM</text>
<text x="862.5" y="294.95" font-size="4.0" textLength="7.0" lengthAdjust="spacingAndGlyphs">BRN</text>
<text x="877.5" y="298.15" font-size="4.0" textLength="1.8" lengthAdjust="spacingAndGlyphs">2</text>
<text x="862.5" y="300.95" font-size="4.0" textLength="7.0" lengthAdjust="spacingAndGlyphs">PNK</text>
<text x="877.5" y="304.15" font-size="4.0" textLength="1.8" lengthAdjust="spacingAndGlyphs">3</text>
<text x="862.5" y="306.95" font-size="4.0" textLength="7.0" lengthAdjust="spacingAndGlyphs">ORG</text>
<text x="877.5" y="310.15" font-size="4.0" textLength="1.8" lengthAdjust="spacingAndGlyphs">4</text>
<text x="862.5" y="424.95" font-size="4.0" textLength="7.0" lengthAdjust="spacingAndGlyphs">YEL</text>
<text x="877.5" y="428.15" font-size="4.0" textLength="1.8" lengthAdjust="spacingAndGlyphs">5</text>
<text x="862.5" y="488.95" font-size="4.0" textLength="7.0" lengthAdjust="spacingAndGlyphs">PPL</text>
<text x="877.5" y="492.15" font-size="4.0" textLength="1.8" lengthAdjust="spacingAndGlyphs">6</text>
<text x="862.5" y="512.95" font-size="4.0" textLength="7.0" lengthAdjust="spacingAndGlyphs">GRY</text>
<text x="877.5" y="516.15" font-size="4.0" textLength="1.8" lengthAdjust="spacingAndGlyphs">7</text>
<text x="862.5" y="518.95" font-size="4.0" textLength="7.0" lengthAdjust="spacingAndGlyphs">PNK</text>
<text x="877.5" y="522.15" font-size="4.0" textLength="1.8" lengthAdjust="spacingAndGlyphs">8</text>
<text x="862.5" y="523.95" font-size="4.0" textLength="7.0" lengthAdjust="spacingAndGlyphs">BRN</text>
<text x="877.5" y="527.15" font-size="4.0" textLength="1.8" lengthAdjust="spacingAndGlyphs">9</text>
<text x="862.5" y="529.95" font-size="4.0" textLength="7.0" lengthAdjust="spacingAndGlyphs">PPL</text>
<text x="877.5" y="533.15" font-size="4.0" textLength="3" lengthAdjust="spacingAndGlyphs">10</text>
<text x="862.5" y="535.95" font-size="4.0" textLength="7.0" lengthAdjust="spacingAndGlyphs">GRY</text>
<text x="877.5" y="539.15" font-size="4.0" textLength="3" lengthAdjust="spacingAndGlyphs">11</text>
<text x="847.6" y="265.95" font-size="4.0" textLength="21.4" lengthAdjust="spacingAndGlyphs">DK GRN/WHT</text>
<text x="876.3" y="268.65" font-size="4.0" textLength="1.2" lengthAdjust="spacingAndGlyphs">1</text>
<rect x="618.4" y="153.4" width="24.3" height="18" stroke="#000" stroke-width="1.1" fill="none"/>
<path d="M621.5,171 L621.5,162.5 L625.5,162.5 M625.5,161.8 L636,168.2 M639.3,171 L639.3,156.3 L634.8,156.3" stroke="#000" stroke-width="0.9" fill="none"/>
<path d="M634.2,156.3 l1.8,-1.2 v2.4 Z" stroke="#000" stroke-width="0.5" fill="#000"/>
<rect x="619.4" y="170.8" width="4.2" height="3" stroke="#000" stroke-width="0.9" fill="#fff"/>
<rect x="637.2" y="170.8" width="4.2" height="3" stroke="#000" stroke-width="0.9" fill="#fff"/>
<text x="597" y="156.15" font-size="4.0" textLength="18.3" lengthAdjust="spacingAndGlyphs">STOP LAMP</text>
<text x="602" y="159.85" font-size="4.0" textLength="13.3" lengthAdjust="spacingAndGlyphs">SWITCH</text>
<text x="590" y="164.75" font-size="4.0" textLength="25.3" lengthAdjust="spacingAndGlyphs">(RIGHT SIDE</text>
<text x="606" y="168.95" font-size="4.0" textLength="9.3" lengthAdjust="spacingAndGlyphs">BRAKE</text>
<text x="597" y="173.15" font-size="4.0" textLength="18.3" lengthAdjust="spacingAndGlyphs">OF PEDAL)</text>
<text x="617.2" y="176.75" font-size="3.8" textLength="1.7" lengthAdjust="spacingAndGlyphs">2</text>
<text x="634.8" y="176.75" font-size="3.8" textLength="1.2" lengthAdjust="spacingAndGlyphs">1</text>
<text transform="translate(619.95,194) rotate(-90)" font-size="3.4" style="stroke-width:0.2px" textLength="12.7" lengthAdjust="spacingAndGlyphs">1 LT BLU</text>
<text transform="translate(637.75,189.3) rotate(-90)" font-size="3.4" style="stroke-width:0.2px" textLength="7.3" lengthAdjust="spacingAndGlyphs">ORG</text>
<text transform="translate(660.95,197.2) rotate(-90)" font-size="3.4" style="stroke-width:0.2px" textLength="7.2" lengthAdjust="spacingAndGlyphs">ORG</text>
<text x="659" y="185.75" font-size="4.0" textLength="2" lengthAdjust="spacingAndGlyphs">A</text>
<text transform="translate(678.25,197.2) rotate(-90)" font-size="3.4" style="stroke-width:0.2px" textLength="7.2" lengthAdjust="spacingAndGlyphs">ORG</text>
<text transform="translate(701.65,197.2) rotate(-90)" font-size="3.4" style="stroke-width:0.2px" textLength="7.2" lengthAdjust="spacingAndGlyphs">ORG</text>
<text x="675.5" y="183.15" font-size="3.8" textLength="3.5" lengthAdjust="spacingAndGlyphs">C2</text>
<text x="682.3" y="183.65" font-size="4.0" textLength="2.2" lengthAdjust="spacingAndGlyphs">A</text>
<text x="699" y="183.15" font-size="3.8" textLength="3.3" lengthAdjust="spacingAndGlyphs">C1</text>
<text x="705.5" y="183.65" font-size="4.0" textLength="2.2" lengthAdjust="spacingAndGlyphs">B</text>
<text x="621.5" y="204.05" font-size="4.0" textLength="10.0" lengthAdjust="spacingAndGlyphs">S202</text>
<text x="623.5" y="209.15" font-size="4.0" textLength="45.0" lengthAdjust="spacingAndGlyphs">(BODY HARNESS, ABOVE</text>
<text x="623.5" y="213.15" font-size="4.0" textLength="37.5" lengthAdjust="spacingAndGlyphs">STOP LAMP SWITCH,</text>
<text x="623.5" y="217.75" font-size="4.0" textLength="45.0" lengthAdjust="spacingAndGlyphs">FRONT FOOT WELL SWITCH</text>
<text x="623.5" y="221.75" font-size="4.0" textLength="20.5" lengthAdjust="spacingAndGlyphs">BREAKOUT)</text>
<text x="617.3" y="213.15" font-size="4.0" textLength="2.2" lengthAdjust="spacingAndGlyphs">D</text>
<rect x="617.6" y="215.2" width="2" height="2.2" stroke="#000" stroke-width="0.5" fill="#000"/>
<text x="617.3" y="221.75" font-size="4.0" textLength="2.2" lengthAdjust="spacingAndGlyphs">E</text>
<path d="M653.4,156.3 H729.6 V177.6 H653.4 Z" stroke="#000" stroke-width="1.0" fill="none" stroke-dasharray="4.2 1.8"/>
<line x1="664" y1="177.6" x2="679" y2="177.6" stroke="#000" stroke-width="1.8" stroke-dasharray="3.5 1.5"/>
<path d="M662.7,156.3 V162.5 q-1.8,1 0,2 q1.8,1 0,2 q-1.8,1 0,2 q1.8,1 0,2 V177" stroke="#000" stroke-width="0.9" fill="none"/>
<path d="M703.5,156.3 V162.5 q-1.8,1 0,2 q1.8,1 0,2 q-1.8,1 0,2 q1.8,1 0,2 V177" stroke="#000" stroke-width="0.9" fill="none"/>
<path d="M662.7,159.6 H680.5 V164 q-1.8,1 0,2 q1.8,1 0,2 q-1.8,1 0,2 V177" stroke="#000" stroke-width="0.9" fill="none"/>
<rect x="660.5" y="176.7" width="4.4" height="3" stroke="#000" stroke-width="0.9" fill="#fff"/>
<rect x="678.3" y="176.7" width="4.4" height="3" stroke="#000" stroke-width="0.9" fill="#fff"/>
<rect x="701.3" y="176.7" width="4.4" height="3" stroke="#000" stroke-width="0.9" fill="#fff"/>
<text x="656.4" y="149.95" font-size="4.0" textLength="11.9" lengthAdjust="spacingAndGlyphs">HOT AT</text>
<text x="654" y="153.95" font-size="4.0" textLength="17.2" lengthAdjust="spacingAndGlyphs">ALL TIMES</text>
<text x="697.3" y="149.95" font-size="4.0" textLength="12.0" lengthAdjust="spacingAndGlyphs">HOT AT</text>
<text x="695" y="153.95" font-size="4.0" textLength="17.2" lengthAdjust="spacingAndGlyphs">ALL TIMES</text>
<text x="665.3" y="164.95" font-size="4.0" textLength="8.2" lengthAdjust="spacingAndGlyphs">STOP</text>
<text x="665.3" y="168.85" font-size="4.0" textLength="8.7" lengthAdjust="spacingAndGlyphs">FUSE</text>
<text x="665.3" y="174.15" font-size="4.0" textLength="6.7" lengthAdjust="spacingAndGlyphs">20A</text>
<text x="683" y="161.65" font-size="4.0" textLength="11.5" lengthAdjust="spacingAndGlyphs">CHMSL</text>
<text x="683" y="166.25" font-size="4.0" textLength="7" lengthAdjust="spacingAndGlyphs">B/UP</text>
<text x="683" y="170.85" font-size="4.0" textLength="9" lengthAdjust="spacingAndGlyphs">FUSE</text>
<text x="683" y="175.15" font-size="4.0" textLength="7" lengthAdjust="spacingAndGlyphs">15A</text>
<text x="706.3" y="164.95" font-size="4.0" textLength="11.2" lengthAdjust="spacingAndGlyphs">CLSTR</text>
<text x="706.3" y="168.85" font-size="4.0" textLength="8.7" lengthAdjust="spacingAndGlyphs">FUSE</text>
<text x="706.3" y="172.85" font-size="4.0" textLength="6.7" lengthAdjust="spacingAndGlyphs">10A</text>
<text x="731.4" y="158.75" font-size="4.0" textLength="23.1" lengthAdjust="spacingAndGlyphs">UNDERHOOD</text>
<text x="731.4" y="162.95" font-size="4.0" textLength="21.1" lengthAdjust="spacingAndGlyphs">FUSE BLOCK</text>
<text x="731.4" y="166.95" font-size="4.0" textLength="21.6" lengthAdjust="spacingAndGlyphs">(LEFT FRONT</text>
<text x="731.4" y="170.85" font-size="4.0" textLength="28.1" lengthAdjust="spacingAndGlyphs">SIDE OF ENGINE</text>
<text x="731.4" y="176.15" font-size="4.0" textLength="13.6" lengthAdjust="spacingAndGlyphs">COMPT)</text>
<path d="M784.4,155.4 H829.7 V183.2 H784.4 Z" stroke="#000" stroke-width="1.0" fill="none" stroke-dasharray="4.2 1.8"/>
<path d="M809.3,155.4 V162 M808.2,162.6 L800,170 M804,172.9 H809.3 V183" stroke="#000" stroke-width="1.25" fill="none"/>
<circle cx="809.3" cy="162.3" r="0.95" fill="#000"/>
<circle cx="799.6" cy="170.2" r="0.95" fill="#000"/>
<circle cx="804" cy="172.9" r="0.95" fill="#000"/>
<circle cx="809.3" cy="172.9" r="0.95" fill="#000"/>
<circle cx="815.5" cy="168.8" r="0.95" fill="#000"/>
<rect x="807.1" y="182.8" width="4.4" height="3" stroke="#000" stroke-width="0.9" fill="#fff"/>
<text x="800.6" y="149.45" font-size="4.0" textLength="11.4" lengthAdjust="spacingAndGlyphs">HOT AT</text>
<text x="798" y="153.75" font-size="4.0" textLength="17" lengthAdjust="spacingAndGlyphs">ALL TIMES</text>
<text x="831" y="158.05" font-size="4.0" textLength="14" lengthAdjust="spacingAndGlyphs">IGNITION</text>
<text x="831" y="162.25" font-size="4.0" textLength="12.5" lengthAdjust="spacingAndGlyphs">SWITCH</text>
<text x="789.4" y="171.45" font-size="4.0" textLength="6.6" lengthAdjust="spacingAndGlyphs">LOCK</text>
<text x="817.4" y="168.85" font-size="4.0" textLength="9.6" lengthAdjust="spacingAndGlyphs">START</text>
<text x="794.8" y="177.45" font-size="4.0" textLength="6.7" lengthAdjust="spacingAndGlyphs">ACC</text>
<text x="811.6" y="177.95" font-size="4.0" textLength="7.4" lengthAdjust="spacingAndGlyphs">RUN</text>
<text transform="translate(807.25,208) rotate(-90)" font-size="3.4" style="stroke-width:0.2px" textLength="18" lengthAdjust="spacingAndGlyphs">1  PNK  3</text>
<path d="M807.5,214.6 L811.1,218 M811.1,214.6 L807.5,218 M807.2,216.3 H811.4" stroke="#000" stroke-width="1.0" fill="none"/>
<text x="817.4" y="224.85" font-size="4.0" textLength="13.6" lengthAdjust="spacingAndGlyphs">4   BRN</text>
<text x="839" y="224.65" font-size="3.9" textLength="4.5" lengthAdjust="spacingAndGlyphs">B7</text>
<text x="839" y="230.95" font-size="3.9" textLength="4.5" lengthAdjust="spacingAndGlyphs">B8</text>
<text x="817.4" y="236.65" font-size="4.0" textLength="13.6" lengthAdjust="spacingAndGlyphs">4   BRN</text>
<text x="839" y="236.45" font-size="3.9" textLength="4.5" lengthAdjust="spacingAndGlyphs">B5</text>
<text x="839" y="242.75" font-size="3.9" textLength="4.5" lengthAdjust="spacingAndGlyphs">B6</text>
<path d="M846,224.3 L844,226.5 L846,228.7 M846,236.1 L844,238.3 L846,240.5" stroke="#000" stroke-width="0.8" fill="none"/>
<path d="M847.3,243.5 V220.4 H878 V243.5" stroke="#000" stroke-width="1.0" fill="none" stroke-dasharray="4.2 1.8"/>
<line x1="847.3" y1="243.7" x2="858" y2="243.7" stroke="#000" stroke-width="1"/>
<text x="848.8" y="227.95" font-size="4.0" textLength="15.2" lengthAdjust="spacingAndGlyphs">IGNITION 1</text>
<text x="848.8" y="239.65" font-size="4.0" textLength="15.2" lengthAdjust="spacingAndGlyphs">IGNITION 1</text>
<text x="850" y="247.25" font-size="4.0" textLength="27.5" lengthAdjust="spacingAndGlyphs">THEFT DETERRENT</text>
<text x="851.6" y="251.15" font-size="4.0" textLength="25.9" lengthAdjust="spacingAndGlyphs">MODULE (TDM)</text>
<text x="851.6" y="255.65" font-size="4.0" textLength="25.9" lengthAdjust="spacingAndGlyphs">(IN HEADLINER,</text>
<text x="857" y="259.75" font-size="4.0" textLength="20.5" lengthAdjust="spacingAndGlyphs">REAR PANEL)</text>
<text x="775.8" y="290.65" font-size="4.0" textLength="7.2" lengthAdjust="spacingAndGlyphs">S201</text>
<text x="775.8" y="294.75" font-size="4.0" textLength="6.2" lengthAdjust="spacingAndGlyphs">IP</text>
<rect x="773.3" y="296" width="2.4" height="1.6" stroke="#000" stroke-width="0.4" fill="#000"/>
<path d="M829.4,314.5 H872 V402" stroke="#000" stroke-width="1.0" fill="none" stroke-dasharray="4.2 1.8"/>
<path d="M829.4,314.5 V402.2" stroke="#000" stroke-width="1.1" fill="none" stroke-dasharray="9 1.6"/>
<path d="M829.4,402.2 H857" stroke="#000" stroke-width="1.1" fill="none"/>
<path d="M850.8,396.5 V338.4 H868.7 V396.5 Z" stroke="#000" stroke-width="1.0" fill="none" stroke-dasharray="4.2 1.8"/>
<rect x="826.8" y="324.5" width="3.4" height="4" stroke="#fff" stroke-width="0.01" fill="#fff"/>
<path d="M830.3,324.5 H826.8 V328.5 H830.3" stroke="#000" stroke-width="0.9" fill="none"/>
<rect x="826.8" y="341.6" width="3.4" height="4" stroke="#fff" stroke-width="0.01" fill="#fff"/>
<path d="M830.3,341.6 H826.8 V345.6 H830.3" stroke="#000" stroke-width="0.9" fill="none"/>
<rect x="826.8" y="377.5" width="3.4" height="4" stroke="#fff" stroke-width="0.01" fill="#fff"/>
<path d="M830.3,377.5 H826.8 V381.5 H830.3" stroke="#000" stroke-width="0.9" fill="none"/>
<rect x="826.8" y="388.6" width="3.4" height="4" stroke="#fff" stroke-width="0.01" fill="#fff"/>
<path d="M830.3,388.6 H826.8 V392.6 H830.3" stroke="#000" stroke-width="0.9" fill="none"/>
<path d="M830.5,326.5 H837.3 V330 M837.3,338.6 V343.6 M830.5,343.6 H850.8" stroke="#000" stroke-width="0.9" fill="none"/>
<circle cx="836.3" cy="334.3" r="4.3" fill="#fff" stroke="#000" stroke-width="0.9"/>
<path d="M834.6,331.4 V337.2 M836.3,330.6 V338 M838,331.4 V337.2 M833,334.3 H839.6" stroke="#000" stroke-width="1.15" fill="none"/>
<path d="M850.8,352.3 H833.5 V363.4 H835.6 M844.3,363.4 H850.8" stroke="#000" stroke-width="0.9" fill="none"/>
<circle cx="839.9" cy="363.2" r="4.3" fill="#fff" stroke="#000" stroke-width="0.9"/>
<path d="M838.2,360.3 V366.1 M839.9,359.5 V366.9 M841.6,360.3 V366.1 M836.6,363.2 H843.2" stroke="#000" stroke-width="1.15" fill="none"/>
<path d="M830.5,379.5 H850.8 M830.5,390.6 H850.8" stroke="#000" stroke-width="0.9" fill="none"/>
<text x="842" y="332.45" font-size="4.0" textLength="6.5" lengthAdjust="spacingAndGlyphs">MIL</text>
<text x="842" y="337.05" font-size="4.0" textLength="6.5" lengthAdjust="spacingAndGlyphs">IND</text>
<text x="852.5" y="344.95" font-size="4.0" textLength="3.5" lengthAdjust="spacingAndGlyphs">B+</text>
<text x="852.5" y="353.75" font-size="4.0" textLength="6.0" lengthAdjust="spacingAndGlyphs">IGN</text>
<text x="832.4" y="372.45" font-size="4.0" textLength="14.1" lengthAdjust="spacingAndGlyphs">UP SHIFT</text>
<text x="837" y="376.65" font-size="4.0" textLength="6.5" lengthAdjust="spacingAndGlyphs">IND</text>
<text x="852.5" y="378.95" font-size="4.0" textLength="11.0" lengthAdjust="spacingAndGlyphs">SERIAL</text>
<text x="852.5" y="383.45" font-size="4.0" textLength="8.0" lengthAdjust="spacingAndGlyphs">DATA</text>
<text x="852.5" y="390.45" font-size="4.0" textLength="11.0" lengthAdjust="spacingAndGlyphs">SERIAL</text>
<text x="852.5" y="394.95" font-size="4.0" textLength="8.0" lengthAdjust="spacingAndGlyphs">DATA</text>
<text x="857.5" y="401.05" font-size="4.0" textLength="10.5" lengthAdjust="spacingAndGlyphs">LOGIC</text>
<text x="837.3" y="406.95" font-size="4.0" textLength="34.2" lengthAdjust="spacingAndGlyphs">INSTRUMENT PANEL</text>
<text x="846" y="411.65" font-size="4.0" textLength="25.5" lengthAdjust="spacingAndGlyphs">CLUSTER (IPC)</text>
<text x="797.2" y="324.75" font-size="4.0" textLength="14.4" lengthAdjust="spacingAndGlyphs">BRN/WHT</text>
<text x="824" y="324.75" font-size="4.0" textLength="1.7" lengthAdjust="spacingAndGlyphs">8</text>
<text x="805" y="341.85" font-size="4.0" textLength="9" lengthAdjust="spacingAndGlyphs">ORG</text>
<text x="824.3" y="341.85" font-size="4.0" textLength="1.2" lengthAdjust="spacingAndGlyphs">1</text>
<text x="807" y="377.75" font-size="4.0" textLength="5" lengthAdjust="spacingAndGlyphs">PPL</text>
<text x="822.5" y="377.75" font-size="3.8" textLength="3.0" lengthAdjust="spacingAndGlyphs">10</text>
<text x="807" y="388.85" font-size="4.0" textLength="5" lengthAdjust="spacingAndGlyphs">PPL</text>
<text x="822.5" y="388.85" font-size="3.8" textLength="3.0" lengthAdjust="spacingAndGlyphs">11</text>
<path d="M804.3,377.4 L804.3,381.6 M804.0,377.8 L800.6999999999999,379.5 L804.0,381.2 Z" fill="#000" stroke="#000" stroke-width="0.7"/>
<path d="M804.3,388.5 L804.3,392.70000000000005 M804.0,388.90000000000003 L800.6999999999999,390.6 L804.0,392.3 Z" fill="#000" stroke="#000" stroke-width="0.7"/>
<path d="M800.2,376.5 q-1.4,0 -1.4,2 v4.5 q0,1.8 -1.4,2 q1.4,0.2 1.4,2 v4.5 q0,2 1.4,2" stroke="#000" stroke-width="0.8" fill="none"/>
<text x="776" y="382.85" font-size="4.0" textLength="21" lengthAdjust="spacingAndGlyphs">COMPUTER</text>
<text x="776" y="386.75" font-size="4.0" textLength="21" lengthAdjust="spacingAndGlyphs">DATA LINES</text>
<text x="781.5" y="390.95" font-size="4.0" textLength="15.5" lengthAdjust="spacingAndGlyphs">SYSTEM</text>
<text x="762.3" y="497.75" font-size="4.0" textLength="9.2" lengthAdjust="spacingAndGlyphs">S218</text>
<text x="764" y="502.05" font-size="4.0" textLength="48" lengthAdjust="spacingAndGlyphs">(ENGINE HARNESS, NEAR</text>
<text x="764" y="506.75" font-size="4.0" textLength="36" lengthAdjust="spacingAndGlyphs">ENGINE FUEL PUMP</text>
<text x="764" y="511.25" font-size="4.0" textLength="39" lengthAdjust="spacingAndGlyphs">&amp; SENDER ASSEMBLY)</text>
<rect x="581.3" y="627.3" width="69.5" height="19.1" stroke="#000" stroke-width="1.1" fill="none"/>
<path d="M586.5,628.3 V637.4 H597.0" stroke="#000" stroke-width="0.9" fill="none"/>
<path d="M589.7,638.2 h2" stroke="#000" stroke-width="1.0" fill="none"/>
<path d="M596.9,636.4 v2" stroke="#000" stroke-width="0.9" fill="none"/>
<path d="M598.5,628.3 V630.5" stroke="#000" stroke-width="0.9" fill="none"/>
<path d="M598.5,630.5 l1.9,1.05 l-1.9,1.05 l1.9,1.05 l-1.9,1.05 l1.9,1.05 l-1.9,1.05 l1.9,1.05 l-1.9,1.05 l1.9,1.05 l-1.9,1.05" stroke="#000" stroke-width="0.9" fill="none"/>
<path d="M598.5,641 V643.6 H610.5 V628.3" stroke="#000" stroke-width="0.9" fill="none"/>
<path d="M621.5,628.3 V637.4 H632.0" stroke="#000" stroke-width="0.9" fill="none"/>
<path d="M624.7,638.2 h2" stroke="#000" stroke-width="1.0" fill="none"/>
<path d="M631.9,636.4 v2" stroke="#000" stroke-width="0.9" fill="none"/>
<path d="M633.5,628.3 V630.5" stroke="#000" stroke-width="0.9" fill="none"/>
<path d="M633.5,630.5 l1.9,1.05 l-1.9,1.05 l1.9,1.05 l-1.9,1.05 l1.9,1.05 l-1.9,1.05 l1.9,1.05 l-1.9,1.05 l1.9,1.05 l-1.9,1.05" stroke="#000" stroke-width="0.9" fill="none"/>
<path d="M633.5,641 V643.6 H645.5 V628.3" stroke="#000" stroke-width="0.9" fill="none"/>
<rect x="584.8" y="625.5" width="3.4" height="2.8" stroke="#000" stroke-width="1.25" fill="#fff"/>
<path d="M584.4,629.6 H588.6" stroke="#000" stroke-width="0.9" fill="none"/>
<rect x="596.8" y="625.5" width="3.4" height="2.8" stroke="#000" stroke-width="1.25" fill="#fff"/>
<path d="M596.4,629.6 H600.6" stroke="#000" stroke-width="0.9" fill="none"/>
<rect x="608.8" y="625.5" width="3.4" height="2.8" stroke="#000" stroke-width="1.25" fill="#fff"/>
<path d="M608.4,629.6 H612.6" stroke="#000" stroke-width="0.9" fill="none"/>
<rect x="619.8" y="625.5" width="3.4" height="2.8" stroke="#000" stroke-width="1.25" fill="#fff"/>
<path d="M619.4,629.6 H623.6" stroke="#000" stroke-width="0.9" fill="none"/>
<rect x="631.8" y="625.5" width="3.4" height="2.8" stroke="#000" stroke-width="1.25" fill="#fff"/>
<path d="M631.4,629.6 H635.6" stroke="#000" stroke-width="0.9" fill="none"/>
<rect x="643.8" y="625.5" width="3.4" height="2.8" stroke="#000" stroke-width="1.25" fill="#fff"/>
<path d="M643.4,629.6 H647.6" stroke="#000" stroke-width="0.9" fill="none"/>
<text x="586" y="650.35" font-size="4.0" textLength="58" lengthAdjust="spacingAndGlyphs">ACCELERATOR PEDAL POSITION</text>
<text x="602.3" y="654.85" font-size="4.0" textLength="25.7" lengthAdjust="spacingAndGlyphs">(APP) SENSOR</text>
<text x="588" y="659.35" font-size="4.0" textLength="53" lengthAdjust="spacingAndGlyphs">(ON ACCELERATOR PEDAL ASSEMBLY)</text>
<text transform="translate(584.75,624.3) rotate(-90)" font-size="3.4" style="stroke-width:0.2px" textLength="18.7" lengthAdjust="spacingAndGlyphs">B  LT BLU</text>
<text transform="translate(596.75,624.3) rotate(-90)" font-size="3.4" style="stroke-width:0.2px" textLength="12.3" lengthAdjust="spacingAndGlyphs">B  PPL</text>
<text transform="translate(607.75,624.3) rotate(-90)" font-size="3.4" style="stroke-width:0.2px" textLength="14.3" lengthAdjust="spacingAndGlyphs">A  TAN</text>
<text transform="translate(619.75,624.3) rotate(-90)" font-size="3.4" style="stroke-width:0.2px" textLength="20.3" lengthAdjust="spacingAndGlyphs">F  DK BLU</text>
<text transform="translate(631.75,624.3) rotate(-90)" font-size="3.4" style="stroke-width:0.2px" textLength="15.3" lengthAdjust="spacingAndGlyphs">E  BRN</text>
<text transform="translate(643.75,624.3) rotate(-90)" font-size="3.4" style="stroke-width:0.2px" textLength="21.3" lengthAdjust="spacingAndGlyphs">D  WHT/BLK</text>
<rect x="657.1" y="627.3" width="34.8" height="19.1" stroke="#000" stroke-width="1.1" fill="none"/>
<path d="M662.6,628.3 V637.4 H673.1" stroke="#000" stroke-width="0.9" fill="none"/>
<path d="M665.8000000000001,638.2 h2" stroke="#000" stroke-width="1.0" fill="none"/>
<path d="M673.0,636.4 v2" stroke="#000" stroke-width="0.9" fill="none"/>
<path d="M674.6,628.3 V630.5" stroke="#000" stroke-width="0.9" fill="none"/>
<path d="M674.6,630.5 l1.9,1.05 l-1.9,1.05 l1.9,1.05 l-1.9,1.05 l1.9,1.05 l-1.9,1.05 l1.9,1.05 l-1.9,1.05 l1.9,1.05 l-1.9,1.05" stroke="#000" stroke-width="0.9" fill="none"/>
<path d="M674.6,641 V643.6 H686.6 V628.3" stroke="#000" stroke-width="0.9" fill="none"/>
<rect x="660.9" y="625.5" width="3.4" height="2.8" stroke="#000" stroke-width="1.25" fill="#fff"/>
<path d="M660.5,629.6 H664.7" stroke="#000" stroke-width="0.9" fill="none"/>
<rect x="672.9" y="625.5" width="3.4" height="2.8" stroke="#000" stroke-width="1.25" fill="#fff"/>
<path d="M672.5,629.6 H676.7" stroke="#000" stroke-width="0.9" fill="none"/>
<rect x="684.9" y="625.5" width="3.4" height="2.8" stroke="#000" stroke-width="1.25" fill="#fff"/>
<path d="M684.5,629.6 H688.7" stroke="#000" stroke-width="0.9" fill="none"/>
<text x="665" y="650.35" font-size="4.0" textLength="18.5" lengthAdjust="spacingAndGlyphs">FUEL TANK</text>
<text x="664" y="654.85" font-size="4.0" textLength="20.5" lengthAdjust="spacingAndGlyphs">PRESSURE</text>
<text x="662.4" y="658.85" font-size="4.0" textLength="24.2" lengthAdjust="spacingAndGlyphs">(FTP) SENSOR</text>
<text x="657" y="663.25" font-size="4.0" textLength="34.5" lengthAdjust="spacingAndGlyphs">(TOP LEFT REAR</text>
<text x="661.3" y="667.65" font-size="4.0" textLength="26.0" lengthAdjust="spacingAndGlyphs">OF FUEL TANK)</text>
<text transform="translate(660.75,624.3) rotate(-90)" font-size="3.4" style="stroke-width:0.2px" textLength="21.3" lengthAdjust="spacingAndGlyphs">C  DK GRN</text>
<text transform="translate(672.75,624.3) rotate(-90)" font-size="3.4" style="stroke-width:0.2px" textLength="14.3" lengthAdjust="spacingAndGlyphs">B  GRY</text>
<text transform="translate(684.75,624.3) rotate(-90)" font-size="3.4" style="stroke-width:0.2px" textLength="13.3" lengthAdjust="spacingAndGlyphs">A  BLK</text>
<rect x="706.7" y="621.2" width="25.2" height="18.9" stroke="#000" stroke-width="1.1" fill="none"/>
<path d="M709.5,622 V631.2 H727.5 V622" stroke="#000" stroke-width="0.9" fill="none"/>
<rect x="713.5" y="631.2" width="10.5" height="2.2" stroke="#000" stroke-width="0.4" fill="#000"/>
<line x1="713" y1="634.9" x2="724.5" y2="634.9" stroke="#000" stroke-width="0.9"/>
<rect x="707.8" y="619.5" width="3.4" height="2.8" stroke="#000" stroke-width="1.25" fill="#fff"/>
<path d="M707.4,623.6 H711.6" stroke="#000" stroke-width="0.9" fill="none"/>
<rect x="725.8" y="619.5" width="3.4" height="2.8" stroke="#000" stroke-width="1.25" fill="#fff"/>
<path d="M725.4,623.6 H729.6" stroke="#000" stroke-width="0.9" fill="none"/>
<text x="706.5" y="644.15" font-size="4.0" textLength="23.5" lengthAdjust="spacingAndGlyphs">EVAPORATIVE</text>
<text x="703" y="648.75" font-size="4.0" textLength="30" lengthAdjust="spacingAndGlyphs">EMISSION (EVAP)</text>
<text x="704" y="652.95" font-size="4.0" textLength="27" lengthAdjust="spacingAndGlyphs">CANISTER PURGE</text>
<text x="703" y="657.15" font-size="4.0" textLength="30" lengthAdjust="spacingAndGlyphs">SOLENOID VALVE</text>
<text x="706" y="661.85" font-size="4.0" textLength="25" lengthAdjust="spacingAndGlyphs">(TOP CENTER OF</text>
<text x="704" y="665.95" font-size="4.0" textLength="29" lengthAdjust="spacingAndGlyphs">ENGINE, BEHIND</text>
<text x="712" y="669.85" font-size="4.0" textLength="12.5" lengthAdjust="spacingAndGlyphs">INTAKE)</text>
<text transform="translate(707.75,620) rotate(-90)" font-size="3.4" style="stroke-width:0.2px" textLength="14" lengthAdjust="spacingAndGlyphs">B  WHT</text>
<text transform="translate(725.75,619) rotate(-90)" font-size="3.4" style="stroke-width:0.2px" textLength="15" lengthAdjust="spacingAndGlyphs">A  ORG</text>
<rect x="741.2" y="627.3" width="54.5" height="22.2" stroke="#000" stroke-width="1.1" fill="none"/>
<path d="M745.4,616 V643.5" stroke="#000" stroke-width="0.9" fill="none"/>
<path d="M762.5,616 V643.5" stroke="#000" stroke-width="0.9" fill="none"/>
<path d="M774.4,616 V643.5" stroke="#000" stroke-width="0.9" fill="none"/>
<path d="M792.4,616 V643.5" stroke="#000" stroke-width="0.9" fill="none"/>
<path d="M745.4,643.5 H750.5 M758.5,643.5 H762.5 M774.4,643.5 H779 M787,643.5 H792.4" stroke="#000" stroke-width="0.9" fill="none"/>
<path d="M750.5,643.5 l1,-1.8 l1.4,3.6 l1.4,-3.6 l1.4,3.6 l1.4,-3.6 l1.4,1.8" stroke="#000" stroke-width="0.8" fill="none"/>
<path d="M751.5,646.2 L757.5,640.6" stroke="#000" stroke-width="0.8" fill="none"/>
<circle cx="782.9" cy="643.5" r="4" fill="#fff" stroke="#000" stroke-width="0.9"/>
<path d="M781.2,645.6 V641.4 L782.9,643.6 L784.6,641.4 V645.6" stroke="#000" stroke-width="0.7" fill="none"/>
<rect x="786.6" y="642.1" width="1.4" height="2.8" stroke="#000" stroke-width="0.4" fill="#000"/>
<rect x="777.8" y="642.1" width="1.4" height="2.8" stroke="#000" stroke-width="0.4" fill="#000"/>
<rect x="743.6" y="613.2" width="3.6" height="3.2" stroke="#000" stroke-width="0.9" fill="#fff"/>
<path d="M760.5,612.8 L764.5,616.8 M764.5,612.8 L760.5,616.8 M760.1,614.8 H764.9" stroke="#000" stroke-width="1.0" fill="none"/>
<rect x="761.6" y="613.9" width="1.8" height="1.8" stroke="#000" stroke-width="0.3" fill="#fff"/>
<path d="M772.4,612.8 L776.4,616.8 M776.4,612.8 L772.4,616.8 M772.0,614.8 H776.8" stroke="#000" stroke-width="1.0" fill="none"/>
<rect x="773.5" y="613.9" width="1.8" height="1.8" stroke="#000" stroke-width="0.3" fill="#fff"/>
<rect x="790.6" y="613.2" width="3.6" height="3.2" stroke="#000" stroke-width="0.9" fill="#fff"/>
<path d="M743.3,613 H741.7 M790.3,613 H788.7" stroke="#000" stroke-width="0.7" fill="none"/>
<text transform="translate(743.55,625.5) rotate(-90)" font-size="3.6" style="stroke-width:0.2px" textLength="7.5" lengthAdjust="spacingAndGlyphs">C1</text>
<text transform="translate(760.55,625.5) rotate(-90)" font-size="3.6" style="stroke-width:0.2px" textLength="7.5" lengthAdjust="spacingAndGlyphs">C1</text>
<text transform="translate(772.55,625.5) rotate(-90)" font-size="3.6" style="stroke-width:0.2px" textLength="7.5" lengthAdjust="spacingAndGlyphs">C1</text>
<text transform="translate(790.55,625.5) rotate(-90)" font-size="3.6" style="stroke-width:0.2px" textLength="7.5" lengthAdjust="spacingAndGlyphs">C1</text>
<text transform="translate(743.75,613) rotate(-90)" font-size="3.4" style="stroke-width:0.2px" textLength="13" lengthAdjust="spacingAndGlyphs">B  PPL</text>
<text transform="translate(760.75,613) rotate(-90)" font-size="3.4" style="stroke-width:0.2px" textLength="14" lengthAdjust="spacingAndGlyphs">C  BLK</text>
<text transform="translate(772.25,613) rotate(-90)" font-size="3.4" style="stroke-width:0.2px" textLength="15" lengthAdjust="spacingAndGlyphs">D  GRY</text>
<text transform="translate(790.75,613) rotate(-90)" font-size="3.4" style="stroke-width:0.2px" textLength="14" lengthAdjust="spacingAndGlyphs">A  PNK</text>
<text x="748" y="654.95" font-size="4.0" textLength="40" lengthAdjust="spacingAndGlyphs">FUEL PUMP &amp; SENDER</text>
<text x="759" y="659.05" font-size="4.0" textLength="18" lengthAdjust="spacingAndGlyphs">ASSEMBLY</text>
<text x="750" y="663.95" font-size="4.0" textLength="36" lengthAdjust="spacingAndGlyphs">(TOP OF FUEL TANK)</text>
<rect x="804.3" y="627.3" width="34.5" height="19.1" stroke="#000" stroke-width="1.1" fill="none"/>
<path d="M809.6,628.3 V637.4 H820.0" stroke="#000" stroke-width="0.9" fill="none"/>
<path d="M812.8000000000001,638.2 h2" stroke="#000" stroke-width="1.0" fill="none"/>
<path d="M819.9,636.4 v2" stroke="#000" stroke-width="0.9" fill="none"/>
<path d="M821.5,628.3 V630.5" stroke="#000" stroke-width="0.9" fill="none"/>
<path d="M821.5,630.5 l1.9,1.05 l-1.9,1.05 l1.9,1.05 l-1.9,1.05 l1.9,1.05 l-1.9,1.05 l1.9,1.05 l-1.9,1.05 l1.9,1.05 l-1.9,1.05" stroke="#000" stroke-width="0.9" fill="none"/>
<path d="M821.5,641 V643.6 H833.5 V628.3" stroke="#000" stroke-width="0.9" fill="none"/>
<rect x="807.9" y="625.5" width="3.4" height="2.8" stroke="#000" stroke-width="1.25" fill="#fff"/>
<path d="M807.5,629.6 H811.7" stroke="#000" stroke-width="0.9" fill="none"/>
<rect x="819.8" y="625.5" width="3.4" height="2.8" stroke="#000" stroke-width="1.25" fill="#fff"/>
<path d="M819.4,629.6 H823.6" stroke="#000" stroke-width="0.9" fill="none"/>
<rect x="831.8" y="625.5" width="3.4" height="2.8" stroke="#000" stroke-width="1.25" fill="#fff"/>
<path d="M831.4,629.6 H835.6" stroke="#000" stroke-width="0.9" fill="none"/>
<text x="806.3" y="650.25" font-size="4.0" textLength="28.7" lengthAdjust="spacingAndGlyphs">FUEL PRESSURE</text>
<text x="814" y="654.85" font-size="4.0" textLength="15" lengthAdjust="spacingAndGlyphs">SENSOR</text>
<text transform="translate(807.75,624.3) rotate(-90)" font-size="3.4" style="stroke-width:0.2px" textLength="11.3" lengthAdjust="spacingAndGlyphs">C PPL</text>
<text transform="translate(819.75,624.3) rotate(-90)" font-size="3.4" style="stroke-width:0.2px" textLength="14.3" lengthAdjust="spacingAndGlyphs">B BRN</text>
<text transform="translate(831.75,624.3) rotate(-90)" font-size="3.4" style="stroke-width:0.2px" textLength="13.3" lengthAdjust="spacingAndGlyphs">A GRY</text>
<text x="460" y="669.65" font-size="4.4" textLength="11.5" lengthAdjust="spacingAndGlyphs">3080</text>
</svg>
</body></html>
